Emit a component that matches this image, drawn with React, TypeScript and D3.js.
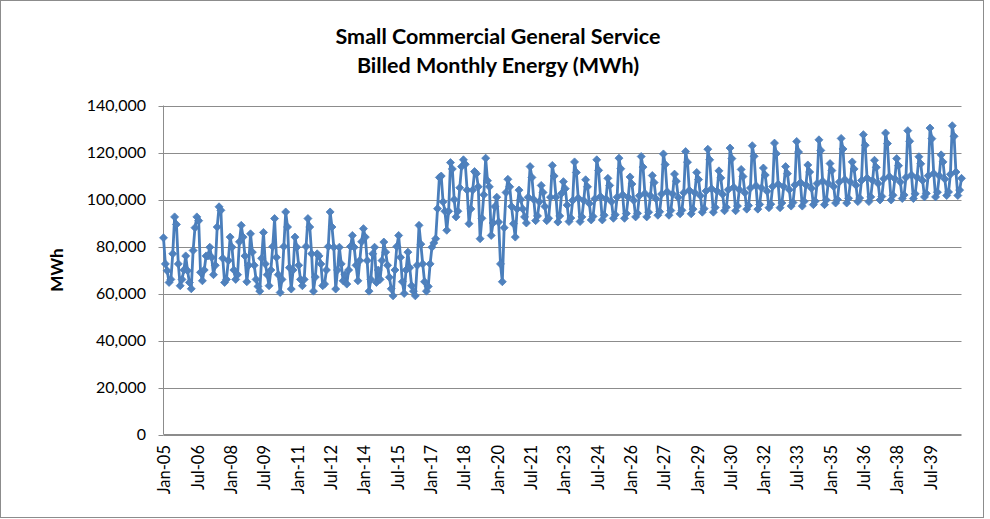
import React from 'react';
import * as d3 from 'd3';

// Billed monthly energy, thousands of MWh, one row per year (Jan..Dec)
const actual2005to2012: number[][] = [
  [83.7, 72.6, 69.7, 64.7, 66.0, 76.9, 92.6, 89.4, 72.6, 63.3, 66.0, 70.0],
  [76.0, 69.7, 64.7, 62.0, 78.3, 88.0, 92.6, 91.0, 69.0, 65.4, 70.0, 76.0],
  [76.0, 79.7, 75.4, 68.0, 72.0, 88.3, 96.9, 95.4, 75.0, 64.7, 66.0, 74.0],
  [84.0, 79.7, 70.0, 66.0, 68.0, 82.0, 89.0, 84.0, 76.0, 65.0, 72.0, 85.4],
  [77.6, 72.0, 66.0, 63.0, 61.0, 75.0, 86.0, 72.6, 68.0, 63.3, 70.0, 80.0],
  [91.9, 75.4, 68.0, 60.4, 66.0, 80.0, 94.7, 88.3, 71.0, 61.9, 70.0, 84.0],
  [79.7, 72.0, 66.0, 63.3, 66.0, 80.0, 91.9, 88.3, 76.9, 61.0, 67.0, 76.9],
  [76.0, 72.6, 63.3, 64.0, 70.0, 80.0, 94.7, 88.3, 79.7, 61.9, 70.0, 79.7],
];

const actual2013to2020: number[][] = [
  [72.6, 65.4, 68.0, 64.0, 70.0, 80.0, 84.7, 79.7, 72.0, 65.4, 74.0, 82.0],
  [87.6, 84.0, 74.0, 61.0, 66.0, 76.9, 79.7, 64.7, 70.0, 66.0, 74.0, 81.9],
  [77.6, 72.0, 66.9, 62.0, 59.0, 70.0, 80.0, 84.7, 75.4, 65.0, 60.0, 70.0],
  [77.6, 71.0, 63.3, 61.0, 59.0, 72.0, 89.0, 81.0, 72.6, 65.0, 61.0, 63.0],
  [72.6, 79.7, 81.5, 83.3, 96.1, 109.4, 110.0, 99.0, 95.0, 86.9, 95.0, 115.7],
  [113.0, 100.0, 92.6, 95.0, 105.0, 114.0, 116.9, 115.0, 104.0, 89.7, 96.0, 104.0],
  [111.9, 111.0, 105.4, 83.3, 92.0, 102.0, 117.6, 108.0, 105.4, 84.7, 90.0, 97.0],
  [101.0, 90.4, 72.6, 65.0, 88.0, 103.0, 108.6, 105.4, 97.0, 89.7, 84.0, 96.0],
];

const forecast2021to2030: number[][] = [
  [104.0, 100.0, 96.0, 92.6, 90.0, 101.0, 114.0, 109.4, 100.0, 91.0, 93.0, 99.0],
  [106.0, 103.0, 97.0, 91.0, 92.0, 101.0, 114.5, 110.0, 101.0, 90.4, 93.0, 102.6],
  [107.6, 104.6, 97.6, 90.6, 92.1, 99.6, 116.0, 111.5, 100.6, 90.6, 92.6, 99.6],
  [108.4, 105.4, 98.3, 91.3, 92.8, 100.3, 116.9, 112.4, 101.3, 91.3, 93.3, 100.3],
  [109.0, 106.0, 99.0, 92.0, 93.5, 101.0, 117.6, 113.1, 102.0, 92.0, 94.0, 101.0],
  [109.6, 106.6, 99.6, 92.6, 94.1, 101.6, 118.3, 113.8, 102.6, 92.6, 94.6, 101.6],
  [110.2, 107.2, 100.3, 93.3, 94.8, 102.3, 119.4, 114.9, 103.3, 93.3, 95.3, 102.3],
  [110.8, 107.8, 100.9, 93.9, 95.4, 102.9, 120.4, 115.9, 103.9, 93.9, 95.9, 102.9],
  [111.5, 108.5, 101.6, 94.6, 96.1, 103.6, 121.4, 116.9, 104.6, 94.6, 96.6, 103.6],
  [112.2, 109.2, 102.2, 95.2, 96.7, 104.2, 121.9, 117.4, 105.2, 95.2, 97.2, 104.2],
];

const forecast2031to2040: number[][] = [
  [112.8, 109.8, 102.9, 95.9, 97.4, 104.9, 122.9, 118.4, 105.9, 95.9, 97.9, 104.9],
  [113.4, 110.4, 103.5, 96.5, 98.0, 105.5, 124.0, 119.5, 106.5, 96.5, 98.5, 105.5],
  [114.0, 111.0, 104.2, 97.2, 98.7, 106.2, 124.7, 120.2, 107.2, 97.2, 99.2, 106.2],
  [114.7, 111.7, 104.8, 97.8, 99.3, 106.8, 125.4, 120.9, 107.8, 97.8, 99.8, 106.8],
  [115.3, 112.3, 105.5, 98.5, 100.0, 107.5, 126.0, 121.5, 108.5, 98.5, 100.5, 107.5],
  [116.0, 113.0, 106.1, 99.1, 100.6, 108.1, 127.6, 123.1, 109.1, 99.1, 101.1, 108.1],
  [116.7, 113.7, 106.8, 99.8, 101.3, 108.8, 128.3, 123.8, 109.8, 99.8, 101.8, 108.8],
  [117.4, 114.4, 107.4, 100.4, 101.9, 109.4, 129.3, 124.8, 110.4, 100.4, 102.4, 109.4],
  [118.2, 115.2, 108.1, 101.1, 102.6, 110.1, 130.4, 125.9, 111.1, 101.1, 103.1, 110.1],
  [119.0, 116.0, 108.7, 101.7, 103.2, 110.7, 131.4, 126.9, 111.7, 101.7, 104.0, 109.0],
];

const xTickLabels = [
  'Jan-05', 'Jul-06', 'Jan-08', 'Jul-09', 'Jan-11', 'Jul-12', 'Jan-14', 'Jul-15',
  'Jan-17', 'Jul-18', 'Jan-20', 'Jul-21', 'Jan-23', 'Jul-24', 'Jan-26', 'Jul-27',
  'Jan-29', 'Jul-30', 'Jan-32', 'Jul-33', 'Jan-35', 'Jul-36', 'Jan-38', 'Jul-39',
];
const xTickStep = 18; // months between category labels

const yTickValues = [0, 20000, 40000, 60000, 80000, 100000, 120000, 140000];

const titleLines = ['Small Commercial General Service', 'Billed Monthly Energy (MWh)'];
const yAxisTitle = 'MWh';

const W = 990;
const H = 519;
const PLOT = { left: 163.5, right: 961.5, top: 105.5, bottom: 434.5 };
const FONT = 'Lato, "Liberation Sans", Arial, sans-serif';
const LINE_COLOR = '#4A7EBB';
const MARKER_FILL = '#4F81BD';
const GRID = '#8C8C8C';

export default function App() {
  const values = [
    ...actual2005to2012,
    ...actual2013to2020,
    ...forecast2021to2030,
    ...forecast2031to2040,
  ].flat().map((v) => v * 1000);

  const x = d3.scaleLinear().domain([0, values.length - 1]).range([PLOT.left, PLOT.right]);
  const y = d3.scaleLinear().domain([0, 140000]).range([PLOT.bottom, PLOT.top]);
  const line = d3
    .line<number>()
    .x((_, i) => x(i))
    .y((d) => y(d));
  const fmt = d3.format(',');
  const diamond = 'M0,-4L4,0L0,4L-4,0Z';

  return (
    <div style={{ position: 'absolute', left: 0, top: 0 }}>
      <svg width={W} height={H} style={{ display: 'block', background: '#fff' }}>
        <rect x={0.5} y={0.5} width={983} height={517} fill="#fff" stroke="#8C8C8C" strokeWidth={1} />

        {/* title */}
        {titleLines.map((t, i) => (
          <text
            key={t}
            x={498}
            y={44 + i * 29}
            textAnchor="middle"
            fontFamily={FONT}
            fontWeight="bold"
            fontSize={21.5}
            fill="#000"
          >
            {t}
          </text>
        ))}

        {/* gridlines and y ticks */}
        {yTickValues.map((v) => (
          <g key={v}>
            <line
              x1={PLOT.left}
              x2={PLOT.right}
              y1={Math.round(y(v)) + 0.5}
              y2={Math.round(y(v)) + 0.5}
              stroke={GRID}
              strokeWidth={1}
            />
            <line
              x1={PLOT.left - 5}
              x2={PLOT.left}
              y1={Math.round(y(v)) + 0.5}
              y2={Math.round(y(v)) + 0.5}
              stroke={GRID}
            />
            <text
              x={146}
              y={y(v)}
              dy="0.35em"
              textAnchor="end"
              fontFamily={FONT}
              fontSize={16}
              fill="#000"
            >
              {fmt(v)}
            </text>
          </g>
        ))}

        {/* axes */}
        <line x1={PLOT.left} x2={PLOT.left} y1={PLOT.top} y2={PLOT.bottom} stroke={GRID} />
        <line x1={PLOT.left} x2={PLOT.right} y1={PLOT.bottom} y2={PLOT.bottom} stroke={GRID} />

        {/* x labels */}
        {xTickLabels.map((lab, k) => {
          const px = x(k * xTickStep);
          return (
            <text
              key={lab}
              transform={`translate(${px + 1},445) rotate(-90)`}
              dy="0.35em"
              textAnchor="end"
              fontFamily={FONT}
              fontSize={16.5}
              fill="#000"
            >
              {lab}
            </text>
          );
        })}

        {/* y-axis title */}
        <text
          transform={`translate(57,${(PLOT.top + PLOT.bottom) / 2}) rotate(-90)`}
          dy="0.35em"
          textAnchor="middle"
          fontFamily={FONT}
          fontWeight="bold"
          fontSize={17}
          fill="#000"
        >
          {yAxisTitle}
        </text>

        {/* series */}
        <path d={line(values) ?? ''} fill="none" stroke={LINE_COLOR} strokeWidth={2.8} strokeLinejoin="round" />
        {values.map((v, i) => (
          <path
            key={i}
            d={diamond}
            transform={`translate(${x(i)},${y(v)})`}
            fill={MARKER_FILL}
            stroke={LINE_COLOR}
            strokeWidth={0.8}
          />
        ))}
      </svg>
    </div>
  );
}
